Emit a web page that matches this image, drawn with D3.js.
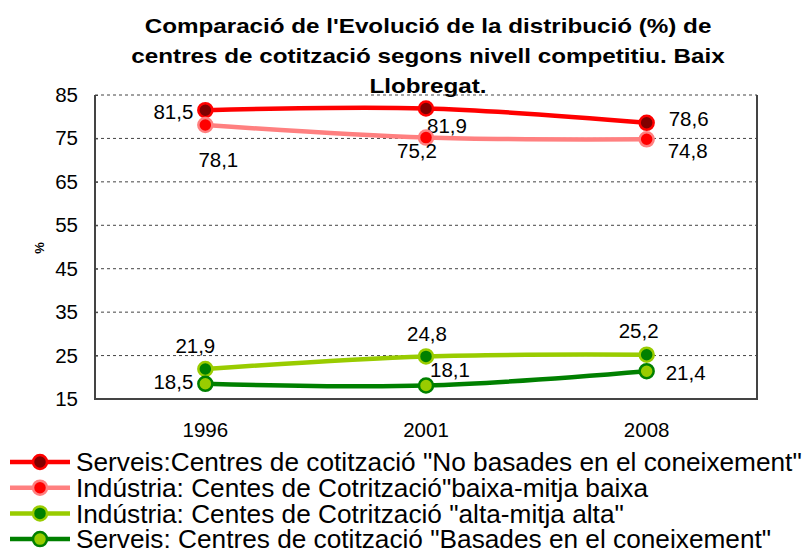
<!DOCTYPE html>
<html>
<head>
<meta charset="utf-8">
<script src="https://cdn.jsdelivr.net/npm/d3@7"></script>
<style>
  html, body { margin: 0; padding: 0; background: #fff; }
  svg { display: block; font-family: "Liberation Sans", Arial, sans-serif; }
</style>
</head>
<body>
<svg id="chart" width="809" height="550"></svg>
<script>
/* ── dades ── */
const anys = ["1996", "2001", "2008"];
const serveisNoBasades = [81.5, 81.9, 78.6];
const industriaBaixa   = [78.1, 75.2, 74.8];
const industriaAlta    = [21.9, 24.8, 25.2];
const serveisBasades   = [18.5, 18.1, 21.4];
const ticksY = [15, 25, 35, 45, 55, 65, 75, 85];
const titol = [
  "Comparació de l'Evolució de la distribució (%) de",
  "centres de cotització segons nivell competitiu. Baix",
  "Llobregat."
];

/* ── sèries amb estil (colors i posició de les etiquetes) ── */
const series = [
  { nom: 'Serveis:Centres de cotització "No basades en el coneixement"',
    valors: serveisNoBasades, linia: "#ff0000", farcit: "#800000", vora: "#ff0000",
    etiq: [["end", -12, 1], ["start", 1, 17], ["start", 22, -4]] },
  { nom: 'Indústria: Centes de Cotrització"baixa-mitja baixa',
    valors: industriaBaixa, linia: "#ff8080", farcit: "#ff0000", vora: "#ff8080",
    etiq: [["middle", 13, 35], ["middle", -9, 13], ["start", 21, 11]] },
  { nom: 'Indústria: Centes de Cotrització "alta-mitja alta"',
    valors: industriaAlta, linia: "#99cc00", farcit: "#008000", vora: "#99cc00",
    etiq: [["middle", -10, -23], ["middle", 1, -23], ["middle", -8, -24]] },
  { nom: 'Serveis: Centres de cotització "Basades en el coneixement"',
    valors: serveisBasades, linia: "#008000", farcit: "#99cc00", vora: "#008000",
    etiq: [["end", -12, -2], ["start", 4, -16], ["start", 19, 1]] }
];

const svg = d3.select("#chart");
const marge = { left: 95, right: 757, top: 95, bottom: 399 };

const x = d3.scaleBand().domain(anys).range([marge.left, marge.right]);
const y = d3.scaleLinear().domain([15, 85]).range([marge.bottom, marge.top]);
const cx = d => x(d) + x.bandwidth() / 2;

/* títol */
const titols = svg.append("g").selectAll("text")
  .data(titol)
  .join("text")
  .attr("x", 0)
  .attr("y", (d, i) => 33 + i * 30)
  .attr("text-anchor", "middle")
  .attr("font-weight", "bold")
  .attr("font-size", "21px")
  .text(d => d);
/* l'amplada de la primera línia (567 px) fixa l'escala horitzontal */
const sxT = 567 / titols.nodes()[0].getComputedTextLength();
titols.attr("transform", `translate(428,0) scale(${sxT},1)`);

/* quadrícula */
svg.append("g").selectAll("line")
  .data(ticksY.filter(t => t > 15))
  .join("line")
  .attr("x1", marge.left).attr("x2", marge.right)
  .attr("y1", d => y(d)).attr("y2", d => y(d))
  .attr("stroke", "#444")
  .attr("stroke-width", 1)
  .attr("stroke-dasharray", "3,3");

/* vores del gràfic */
svg.append("path")
  .attr("d", `M${marge.left},${marge.top} V${marge.bottom} H${marge.right} V${marge.top}`)
  .attr("fill", "none")
  .attr("stroke", "#444")
  .attr("stroke-width", 2);

/* eix Y */
const eixY = svg.append("g")
  .attr("transform", `translate(${marge.left},0)`)
  .call(d3.axisLeft(y).tickValues(ticksY).tickSize(-3).tickPadding(17));
eixY.select(".domain").remove();
eixY.selectAll(".tick line").attr("stroke", "#444");
eixY.selectAll("text").attr("font-size", "20.5px").attr("fill", "#000")
  .attr("font-family", "'Liberation Sans', Arial, sans-serif");

/* eix X */
const eixX = svg.append("g")
  .attr("transform", `translate(0,${marge.bottom})`)
  .call(d3.axisBottom(x).tickSize(0).tickPadding(23));
eixX.select(".domain").remove();
eixX.selectAll("text").attr("font-size", "20.5px").attr("fill", "#000")
  .attr("font-family", "'Liberation Sans', Arial, sans-serif");

/* títol eix Y */
svg.append("text")
  .attr("transform", "translate(44,248) rotate(-90)")
  .attr("text-anchor", "middle")
  .attr("font-weight", "bold")
  .attr("font-size", "13px")
  .text("%");

/* línies suavitzades */
const linia = d3.line()
  .x((d, i) => cx(anys[i]))
  .y(d => y(d))
  .curve(d3.curveCardinal.tension(0));

series.forEach(s => {
  svg.append("path")
    .attr("d", linia(s.valors))
    .attr("fill", "none")
    .attr("stroke", s.linia)
    .attr("stroke-width", 4.5)
    .attr("stroke-linecap", "round");
});

series.forEach(s => {
  svg.append("g").selectAll("circle")
    .data(s.valors)
    .join("circle")
    .attr("cx", (d, i) => cx(anys[i]))
    .attr("cy", d => y(d))
    .attr("r", 7)
    .attr("fill", s.farcit)
    .attr("stroke", s.vora)
    .attr("stroke-width", 2.5);

  svg.append("g").selectAll("text")
    .data(s.valors)
    .join("text")
    .attr("x", (d, i) => cx(anys[i]) + s.etiq[i][1])
    .attr("y", (d, i) => y(d) + s.etiq[i][2])
    .attr("dy", "0.36em")
    .attr("text-anchor", (d, i) => s.etiq[i][0])
    .attr("font-size", "20.5px")
    .text(d => d3.format(".1f")(d).replace(".", ","));
});

/* llegenda */
const llegenda = svg.append("g");
const files = llegenda.selectAll("g")
  .data(series)
  .join("g")
  .attr("transform", (d, i) => `translate(0,${462 + i * 25.7})`);

files.append("line")
  .attr("x1", 10).attr("x2", 70)
  .attr("stroke", d => d.linia)
  .attr("stroke-width", 4.5);
files.append("circle")
  .attr("cx", 40).attr("r", 7)
  .attr("fill", d => d.farcit)
  .attr("stroke", d => d.vora)
  .attr("stroke-width", 2.5);
const textos = files.append("text")
  .attr("x", 0)
  .attr("dy", "0.36em")
  .attr("font-size", "26px")
  .text(d => d.nom);

/* el text de la llegenda d'Excel està comprimit horitzontalment */
const ample = textos.nodes()[0].getComputedTextLength();
const sx = (802 - 76) / ample;
textos.attr("transform", `translate(76,0) scale(${sx},1)`);
</script>
</body>
</html>
